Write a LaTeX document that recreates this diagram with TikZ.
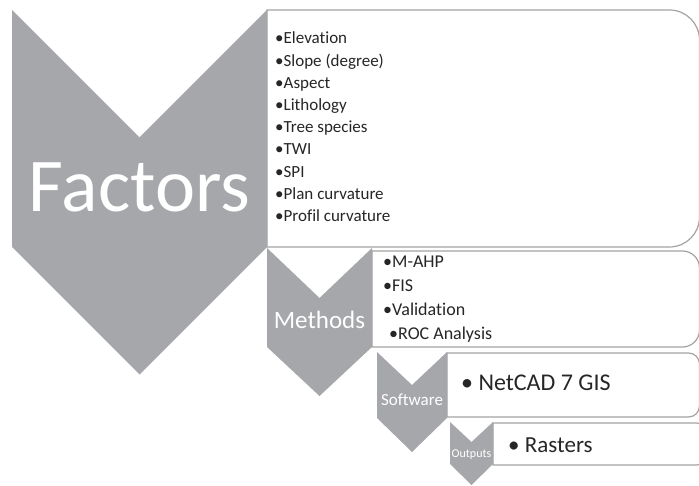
\documentclass[tikz,border=0pt]{standalone}
\usepackage{fontspec}
\setmainfont{Carlito}[Ligatures=NoCommon]
\definecolor{chev}{HTML}{A6A7AA}
\definecolor{frame}{HTML}{A3A3A3}
\definecolor{ink}{HTML}{262626}
\begin{document}
\begin{tikzpicture}[x=1pt,y=-1pt,
  chevron/.style={fill=chev,draw=none},
  panel/.style={draw=frame,line width=1.2pt,fill=white},
  chevtext/.style={text=white,inner sep=0pt,anchor=base},
  listtext/.style={text=ink,inner sep=0pt,anchor=base west,font=\fontsize{17}{17}\selectfont}]
\useasboundingbox (0,0) rectangle (699,486);

% text panels, rounded on the right side only (k = 0.448 r for the quarter-circle controls)
% Factors panel: x 267..699.5, y 10..247, r = 30
\draw[panel] (267,10) -- (669.5,10) .. controls (686.1,10) and (699.5,23.4) .. (699.5,40)
  -- (699.5,217) .. controls (699.5,233.6) and (686.1,247) .. (669.5,247) -- (267,247) -- cycle;
% Methods panel: x 372..699.5, y 251..347, r = 17
\draw[panel] (372,251) -- (682.5,251) .. controls (691.9,251) and (699.5,258.6) .. (699.5,268)
  -- (699.5,330) .. controls (699.5,339.4) and (691.9,347) .. (682.5,347) -- (372,347) -- cycle;
% Software panel: x 447..699.5, y 353..417, r = 11
\draw[panel] (447,353) -- (688.5,353) .. controls (694.6,353) and (699.5,357.9) .. (699.5,364)
  -- (699.5,406) .. controls (699.5,412.1) and (694.6,417) .. (688.5,417) -- (447,417) -- cycle;
% Outputs panel: x 493..704, y 423..465, r = 7
\draw[panel] (493,423) -- (697,423) .. controls (700.9,423) and (704,426.1) .. (704,430)
  -- (704,458) .. controls (704,461.9) and (700.9,465) .. (697,465) -- (493,465) -- cycle;

% chevrons
\fill[chevron] (12,10) -- (139.5,137.5) -- (267,10) -- (267,247) -- (139.5,374.5) -- (12,247) -- cycle;
\fill[chevron] (267,248) -- (319.5,298) -- (372,248) -- (372,347) -- (319.5,396) -- (267,347) -- cycle;
\fill[chevron] (377,352) -- (412,385) -- (447,352) -- (447,418) -- (412,452) -- (377,418) -- cycle;
\fill[chevron] (450,422) -- (471.5,442) -- (493,422) -- (493,464) -- (471.5,485) -- (450,464) -- cycle;

% chevron captions
\node[chevtext,font=\fontsize{76}{76}\selectfont] (factors) at (139.5,212) {Factors};
\node[chevtext,font=\fontsize{25}{25}\selectfont] (methods) at (319.5,329) {Methods};
\node[chevtext,font=\fontsize{17}{17}\selectfont] (software) at (412,406) {Software};
\node[chevtext,font=\fontsize{12}{12}\selectfont] (outputs) at (471.5,457) {Outputs};

% Factors list
\foreach \txt [count=\i] in {Elevation,Slope (degree),Aspect,Lithology,Tree species,TWI,SPI,Plan curvature,Profil curvature}
  \node[listtext] (f\i) at (275,{44+22.2*(\i-1)}) {•\txt};

% Methods list
\node[listtext,font=\fontsize{18}{18}\selectfont] (m1) at (383,268) {•M-AHP};
\node[listtext,font=\fontsize{18}{18}\selectfont] (m2) at (383,292) {•FIS};
\node[listtext,font=\fontsize{18}{18}\selectfont] (m3) at (383,316) {•Validation};
\node[listtext,font=\fontsize{18}{18}\selectfont] (m4) at (389,340) {•ROC Analysis};

% Software and Outputs entries
\node[listtext,font=\fontsize{24}{24}\selectfont] (s1) at (461,391) {• NetCAD 7 GIS};
\node[listtext,font=\fontsize{23}{23}\selectfont] (o1) at (508,452) {• Rasters};
\end{tikzpicture}
\end{document}
